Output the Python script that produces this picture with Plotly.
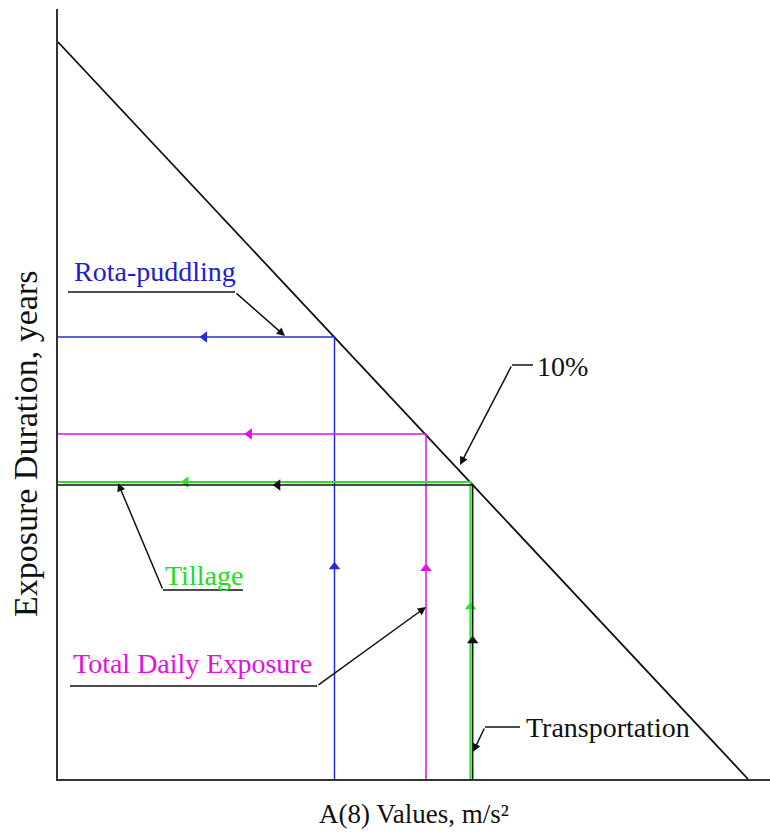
import plotly.graph_objects as go

# ---- data (arbitrary units, no tick labels on the original) ----
limit_x = [0.0, 6.90]          # 10% exposure limit line: A(8) values
limit_y = [7.37, 0.0]          # exposure duration, years

series_names = ["Rota-puddling", "Total Daily Exposure", "Tillage", "Transportation"]
series_a8 = [2.765, 3.68, 4.125, 4.147]
series_years = [4.42, 3.45, 2.97, 2.94]

x_title = "A(8) Values, m/s²"
y_title = "Exposure Duration, years"

# ---- styles ----
colors = {"Rota-puddling": "#2b2bd6", "Total Daily Exposure": "#e312e3",
          "Tillage": "#2ee02e", "Transportation": "#111111"}
widths = {"Rota-puddling": 1.5, "Total Daily Exposure": 1.5, "Tillage": 2.2, "Transportation": 1.5}
# arrow positions as fraction of the horizontal / vertical segment
h_frac = {"Rota-puddling": 0.53, "Total Daily Exposure": 0.52, "Tillage": 0.31, "Transportation": 0.53}
v_frac = {"Rota-puddling": 0.48, "Total Daily Exposure": 0.61, "Tillage": 0.58, "Transportation": 0.47}

FONT = "Liberation Serif, Times New Roman, serif"
fig = go.Figure()

# 10% limit line
fig.add_trace(go.Scatter(x=limit_x, y=limit_y, mode="lines",
                         line=dict(color="#111111", width=1.8), hoverinfo="skip"))

for name, a, yrs in zip(series_names, series_a8, series_years):
    c = colors[name]
    fig.add_trace(go.Scatter(x=[0, a, a], y=[yrs, yrs, 0], mode="lines",
                             line=dict(color=c, width=widths[name]), hoverinfo="skip"))
    fig.add_trace(go.Scatter(x=[a * h_frac[name]], y=[yrs], mode="markers",
                             marker=dict(symbol="triangle-left", size=10, color=c, line=dict(width=0)),
                             hoverinfo="skip"))
    fig.add_trace(go.Scatter(x=[a], y=[yrs * v_frac[name]], mode="markers",
                             marker=dict(symbol="triangle-up", size=10, color=c, line=dict(width=0)),
                             hoverinfo="skip"))

# leader lines (polyline without last segment) + arrow annotations
leaders = [
    # text, text color, text pos, polyline points, arrow tip
    ("Rota-puddling", "#2020d0", (0.97, 5.08), [(0.10, 4.87), (1.77, 4.87)], (2.27, 4.43)),
    ("Tillage", "#22dd22", (1.46, 2.04), [(1.85, 1.89), (1.05, 1.89)], (0.60, 2.96)),
    ("Total Daily Exposure", "#e010e0", (1.34, 1.16), [(0.12, 0.93), (2.59, 0.93)], (3.68, 1.72)),
    ("Transportation", "#111111", (5.50, 0.52), [(4.62, 0.52), (4.27, 0.52)], (4.15, 0.27)),
    ("10%", "#111111", (5.04, 4.13), [(4.75, 4.14), (4.54, 4.14)], (4.02, 3.14)),
]

annotations = []
for text, tc, (tx, ty), pts, (hx, hy) in leaders:
    fig.add_trace(go.Scatter(x=[p[0] for p in pts], y=[p[1] for p in pts], mode="lines",
                             line=dict(color="#111111", width=1.5), hoverinfo="skip"))
    annotations.append(dict(x=hx, y=hy, ax=pts[-1][0], ay=pts[-1][1], xref="x", yref="y",
                            axref="x", ayref="y", text="", showarrow=True, arrowhead=2,
                            arrowsize=1.1, arrowwidth=1.5, arrowcolor="#111111", standoff=0))
    annotations.append(dict(x=tx, y=ty, xref="x", yref="y", text=text, showarrow=False,
                            font=dict(family=FONT, size=28, color=tc)))

# y-axis title (placed off-centre as in the original)
annotations.append(dict(x=-0.0463, y=0.435, xref="paper", yref="paper", text=y_title,
                        textangle=-90, showarrow=False, xanchor="center", yanchor="middle",
                        font=dict(family=FONT, size=34, color="#111111")))

fig.update_layout(
    width=770, height=835,
    margin=dict(l=58, r=0, t=9, b=56),
    paper_bgcolor="white", plot_bgcolor="white",
    showlegend=False,
    annotations=annotations,
    xaxis=dict(range=[0, 7.12], showgrid=False, zeroline=False, showticklabels=False,
               ticks="", showline=True, linecolor="#333333", linewidth=2,
               title=dict(text=x_title, font=dict(family=FONT, size=27, color="#111111"),
                          standoff=24)),
    yaxis=dict(range=[0, 7.70], showgrid=False, zeroline=False, showticklabels=False,
               ticks="", showline=True, linecolor="#333333", linewidth=2),
)

fig.write_html("out.html")
